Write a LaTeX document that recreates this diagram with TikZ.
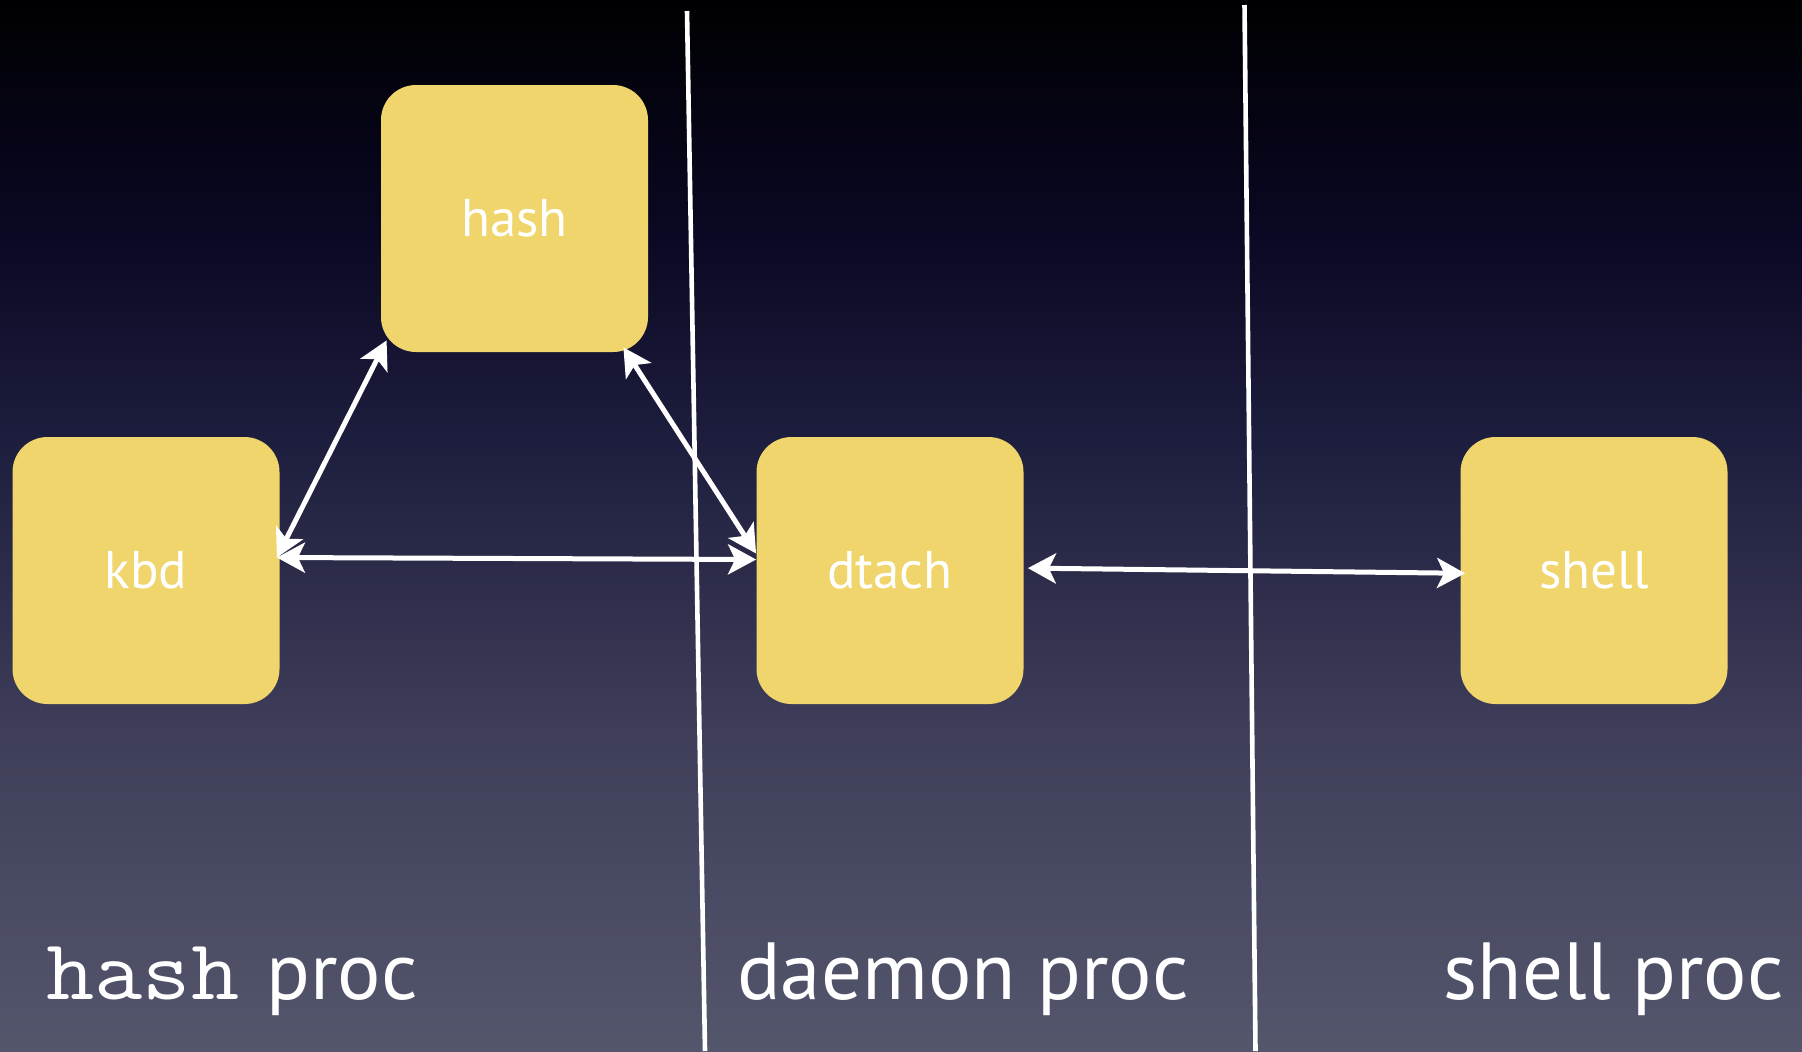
\documentclass[tikz,border=0pt]{standalone}
\usepackage{fontspec}
\setmainfont{PT Sans}
\usetikzlibrary{arrows.meta}
\definecolor{boxfill}{RGB}{240,213,108}
\definecolor{bgA}{RGB}{0,0,2}
\definecolor{bgB}{RGB}{10,8,35}
\definecolor{bgC}{RGB}{28,28,60}
\definecolor{bgE}{RGB}{62,62,90}
\definecolor{bgD}{RGB}{84,86,108}
\pgfdeclareverticalshading{bgshade}{100bp}{color(0bp)=(bgD); color(25bp)=(bgD); color(40.25bp)=(bgE); color(54.5bp)=(bgC); color(64bp)=(bgB); color(75bp)=(bgA); color(100bp)=(bgA)}
\begin{document}
\begin{tikzpicture}[x=0.5pt,y=-0.5pt,
  procbox/.style={fill=boxfill, rounded corners=17.5pt, minimum width=133.5pt, minimum height=133.5pt, inner sep=0pt, text=white, font=\fontsize{26.5}{30}\selectfont},
  link/.style={draw=white, line width=2.5pt, {Stealth[length=14pt,width=15pt,inset=3.5pt]}-{Stealth[length=14pt,width=15pt,inset=3.5pt]}},
  divider/.style={draw=white, line width=2.3pt},
  caption/.style={text=white, font=\fontsize{40.5}{46}\selectfont, inner sep=0pt}]
\useasboundingbox (0,0) rectangle (1802,1051);
\shade[shading=bgshade] (0,0) rectangle (1802,1051);
% dividers
\coordinate (d1t) at (687,11);
\coordinate (d1b) at (705,1051);
\coordinate (d2t) at (1244.5,5);
\coordinate (d2b) at (1255.5,1051);
\draw[divider] (d1t) -- (d1b);
\draw[divider] (d2t) -- (d2b);
% boxes
\node[procbox] (hash) at (514.5,218.5) {hash};
\node[procbox] (kbd) at (146,570.5) {kbd};
\node[procbox] (dtach) at (890,570.5) {dtach};
\node[procbox] (shell) at (1594,570.5) {shell};
% connectors
\draw[link] ([xshift=-1.5pt,yshift=6.5pt]kbd.east) -- ([xshift=3pt,yshift=6pt]hash.south west);
\draw[link] ([xshift=-12.5pt,yshift=2.5pt]hash.south east) -- ([yshift=8.5pt]dtach.west);
\draw[link] ([xshift=-1.5pt,yshift=6.5pt]kbd.east) -- ([yshift=5.5pt]dtach.west);
\draw[link] ([xshift=2pt,yshift=1.2pt]dtach.east) -- ([xshift=2.5pt,yshift=-1.4pt]shell.west);
% captions
\node[caption, anchor=base west] (lhash) at (46,999) {\makebox[110pt][l]{\scalebox{1.09}[1]{\fontsize{43}{48}\selectfont\ttfamily hash}}proc};
\node[caption, anchor=base west] (ldaemon) at (737,999) {daemon proc};
\node[caption, anchor=base east] (lshell) at (1784,999) {shell proc};
\end{tikzpicture}
\end{document}
